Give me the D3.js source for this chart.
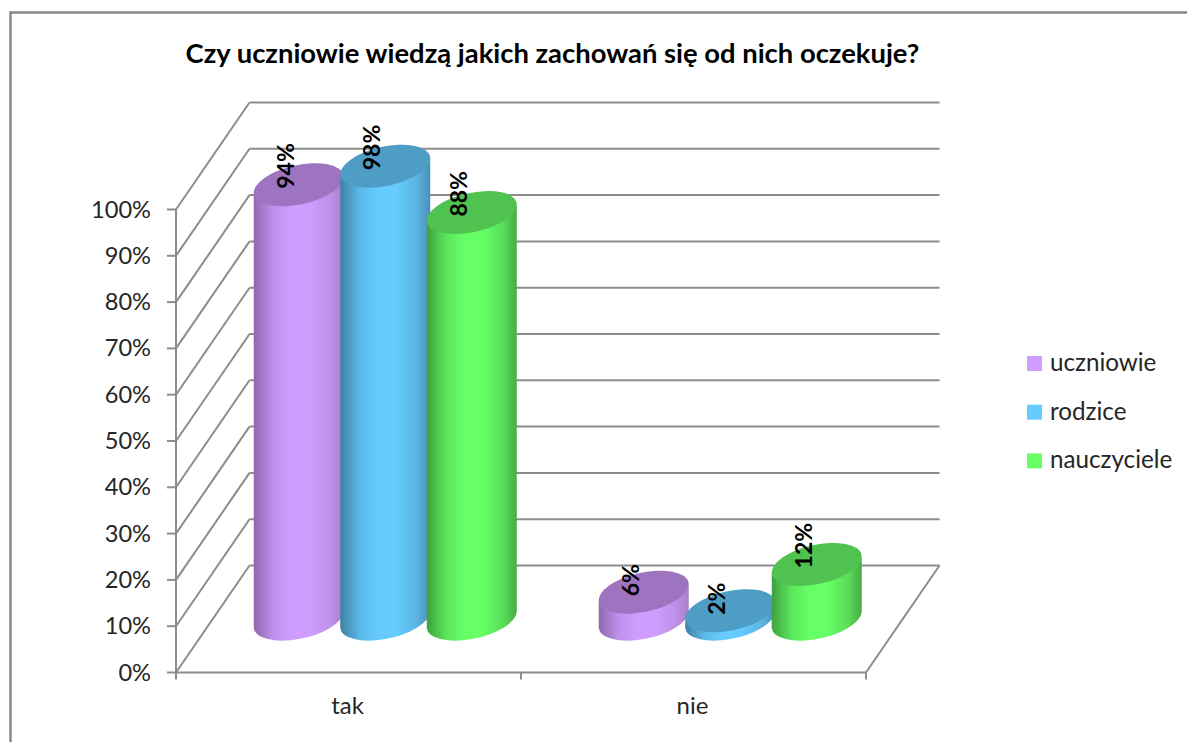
<!DOCTYPE html>
<html><head><meta charset="utf-8">
<script src="https://cdn.jsdelivr.net/npm/d3@7"></script>
<style>html,body{margin:0;padding:0;background:#fff}svg{display:block}text{font-family:Lato,sans-serif}</style>
</head><body><svg id="c" width="1187" height="742"></svg>
<script>
const titleText = "Czy uczniowie wiedzą jakich zachowań się od nich oczekuje?";
const categories = ["tak", "nie"];
const seriesNames = ["uczniowie", "rodzice", "nauczyciele"];
const uczniowie = [94, 6];
const rodzice = [98, 2];
const nauczyciele = [88, 12];
const yTicks = [0,10,20,30,40,50,60,70,80,90,100];
const seriesValues = [uczniowie, rodzice, nauczyciele];
const fills = [
  {edgeL:"#8f68ae", edgeR:"#a67fc8", mid:"#cf9dff", top:"#9e74c0"},
  {edgeL:"#3f80a4", edgeR:"#4a90b8", mid:"#66ccff", top:"#4e9dc5"},
  {edgeL:"#3f9f3f", edgeR:"#45ab45", mid:"#66ff66", top:"#50c250"}
];

const svg = d3.select("#c");
const axisCol = "#8c8c8c";
const depthX = 73.5, depthY = -107;
const y = d3.scaleLinear().domain([0,100]).range([672.5,209.5]);
const x = d3.scaleBand().domain(categories).range([176,866]);
const s = d3.scaleBand().domain(seriesNames).range([-129.75,129.75]);

// frame
svg.append("path").attr("d","M10.5,742V12.5H1187").attr("fill","none").attr("stroke","#868686").attr("stroke-width",2.4);

// gridlines on back wall and side wall
const grid = svg.append("g").attr("stroke",axisCol).attr("stroke-width",2).attr("fill","none");
grid.selectAll("line.back").data(yTicks).join("line").attr("class","back")
  .attr("x1",176+depthX).attr("x2",866+depthX)
  .attr("y1",d=>y(d)+depthY).attr("y2",d=>y(d)+depthY);
grid.selectAll("line.side").data(yTicks).join("line").attr("class","side")
  .attr("x1",176).attr("x2",176+depthX)
  .attr("y1",d=>y(d)).attr("y2",d=>y(d)+depthY);
// floor
grid.append("line").attr("x1",176).attr("x2",866).attr("y1",y(0)).attr("y2",y(0));
grid.append("line").attr("x1",866).attr("x2",866+depthX).attr("y1",y(0)).attr("y2",y(0)+depthY);
// y axis + ticks
grid.append("line").attr("x1",176).attr("x2",176).attr("y1",y(0)+1).attr("y2",y(100));
grid.selectAll("line.yt").data(yTicks).join("line").attr("class","yt")
  .attr("x1",167).attr("x2",176).attr("y1",d=>y(d)).attr("y2",d=>y(d));
// category ticks
grid.selectAll("line.xt").data([176,521,866]).join("line").attr("class","xt")
  .attr("x1",d=>d).attr("x2",d=>d).attr("y1",y(0)).attr("y2",y(0)+7);

// tick labels
svg.append("g").selectAll("text").data(yTicks).join("text")
  .attr("x",151).attr("y",d=>y(d)+8).attr("text-anchor","end")
  .attr("font-size",23.6).attr("fill","#262626").text(d=>d+"%");
svg.append("g").selectAll("text").data(categories).join("text")
  .attr("x",d=>x(d)+x.bandwidth()/2-1).attr("y",714).attr("text-anchor","middle")
  .attr("font-size",24).attr("fill","#262626").text(d=>d);

// gradients
const defs = svg.append("defs");
fills.forEach((f,i)=>{
  const g = defs.append("linearGradient").attr("id","g"+i);
  [[0,f.edgeL],[.22,d3.interpolateRgb(f.edgeL,f.mid)(.75)],[.42,f.mid],[.62,f.mid],[.85,d3.interpolateRgb(f.edgeR,f.mid)(.6)],[1,f.edgeR]]
    .forEach(([o,c])=>g.append("stop").attr("offset",o).attr("stop-color",c));
});

// cylinders
const rx=45.9, ry=19.6, rot=-12.3, tx=45, ty=8;
const yBar = v => y(v)+depthY/2+1;
const bars = [];
categories.forEach((c,ci)=>seriesNames.forEach((n,si)=>bars.push({c,n,si,v:seriesValues[si][ci]})));
const marks = svg.append("g").selectAll("g").data(bars).join("g")
  .attr("transform",d=>`translate(${x(d.c)+x.bandwidth()/2+depthX/2+s(d.n)+s.bandwidth()/2},0)`);
marks.append("path")
  .attr("fill",d=>`url(#g${d.si})`)
  .attr("d",d=>{
    const t=yBar(d.v), b=yBar(0);
    return `M${-tx},${t+ty}L${-tx},${b+ty}A${rx},${ry} ${rot} 0 0 ${tx},${b-ty}L${tx},${t-ty}A${rx},${ry} ${rot} 0 1 ${-tx},${t+ty}Z`;
  });
marks.append("ellipse")
  .attr("rx",rx).attr("ry",ry)
  .attr("transform",d=>`translate(0,${yBar(d.v)}) rotate(${rot})`)
  .attr("fill",d=>fills[d.si].top);

// data labels
marks.append("text")
  .attr("transform",d=>`translate(-5,${yBar(d.v)+4}) rotate(-90)`)
  .attr("font-size",23).attr("font-weight",700).attr("fill","#000")
  .text(d=>d.v+"%");

// title
svg.append("text").attr("x",552.5).attr("y",63).attr("text-anchor","middle")
  .attr("font-size",27.4).attr("font-weight",700).attr("fill","#000").text(titleText);

// legend
const leg = svg.append("g").selectAll("g").data(seriesNames).join("g")
  .attr("transform",(d,i)=>`translate(1027,${356+i*48.7})`);
leg.append("rect").attr("width",15).attr("height",15).attr("fill",(d,i)=>fills[i].mid);
leg.append("text").attr("x",23).attr("y",15).attr("font-size",24.2).attr("fill","#262626").text(d=>d);
</script></body></html>
